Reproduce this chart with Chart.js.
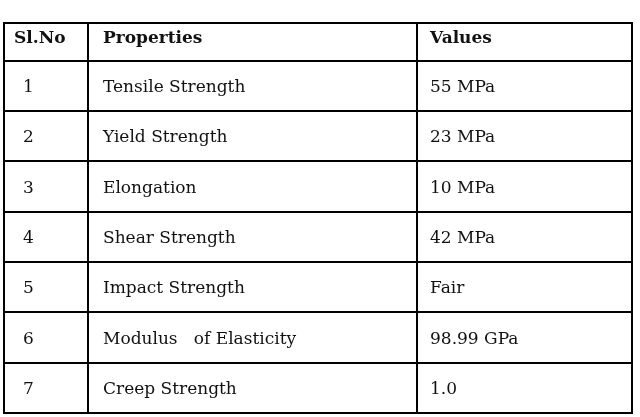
<!DOCTYPE html>
<html>
<head>
<meta charset="utf-8">
<script src="https://cdn.jsdelivr.net/npm/chart.js@4.4.0/dist/chart.umd.min.js"></script>
<style>
html, body { margin: 0; padding: 0; background: #fff; }
#wrap { width: 640px; height: 417px; }
</style>
</head>
<body>
<div id="wrap"><canvas id="table_chart"></canvas></div>
<script>
// table contents
var Headers = ['Sl.No', 'Properties', 'Values'];
var SlNo = ['1', '2', '3', '4', '5', '6', '7'];
var Properties = ['Tensile Strength', 'Yield Strength', 'Elongation', 'Shear Strength',
    'Impact Strength', 'Modulus   of Elasticity', 'Creep Strength'];
var Values = ['55 MPa', '23 MPa', '10 MPa', '42 MPa', 'Fair', '98.99 GPa', '1.0'];

var FONT = '"DejaVu Serif", "Liberation Serif", serif';

var tablePlugin = {
    id: 'tablePlugin',
    afterDraw: function (chart) {
        var ctx = chart.ctx;
        var x = chart.scales.x, y = chart.scales.y;
        var cols = [0, 84, 413, 628];
        var left = x.getPixelForValue(cols[0]), right = x.getPixelForValue(cols[3]);
        var top = y.getPixelForValue(-0.75), bottom = y.getPixelForValue(7);

        ctx.save();
        ctx.strokeStyle = '#000';
        ctx.lineWidth = 2;
        ctx.beginPath();
        // horizontal rules
        var rules = [-0.75];
        for (var r = 0; r <= 7; ++r) rules.push(r);
        rules.forEach(function (v) {
            var py = Math.round(y.getPixelForValue(v));
            ctx.moveTo(left - 1, py); ctx.lineTo(right + 1, py);
        });
        // vertical rules
        cols.forEach(function (c) {
            var px = Math.round(x.getPixelForValue(c));
            ctx.moveTo(px, top); ctx.lineTo(px, bottom);
        });
        ctx.stroke();

        ctx.fillStyle = '#111';
        ctx.textBaseline = 'middle';
        ctx.textAlign = 'left';
        ctx.font = 'bold 17px ' + FONT;
        var hy = y.getPixelForValue(-0.75) + 16;
        ctx.fillText(Headers[0], x.getPixelForValue(10), hy);
        ctx.fillText(Headers[1], x.getPixelForValue(99), hy);
        ctx.fillText(Headers[2], x.getPixelForValue(426), hy);

        ctx.font = '17px ' + FONT;
        for (var i = 0; i < SlNo.length; ++i) {
            var ry = y.getPixelForValue(i) + 27;
            ctx.fillText(SlNo[i], x.getPixelForValue(19), ry);
            ctx.fillText(Properties[i], x.getPixelForValue(99), ry);
            ctx.fillText(Values[i], x.getPixelForValue(426), ry);
        }
        ctx.restore();
    }
};

new Chart(document.getElementById('table_chart').getContext('2d'), {
    type: 'scatter',
    data: { datasets: [{ data: [], pointRadius: 0 }] },
    options: {
        responsive: true,
        maintainAspectRatio: false,
        animation: false,
        layout: { padding: { left: 4, right: 8, top: 23, bottom: 4 } },
        plugins: { legend: { display: false }, tooltip: { enabled: false } },
        scales: {
            x: { type: 'linear', min: 0, max: 628, display: false },
            y: { type: 'linear', min: -0.75, max: 7, reverse: true, display: false }
        }
    },
    plugins: [tablePlugin]
});
</script>
</body>
</html>
